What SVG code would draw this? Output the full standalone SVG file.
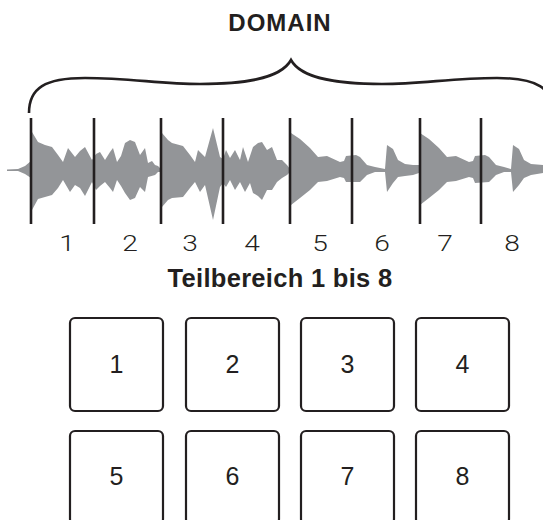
<svg xmlns="http://www.w3.org/2000/svg" width="543" height="520" viewBox="0 0 543 520">
<style>
.title{font-family:"Liberation Sans",Arial,sans-serif;font-weight:bold;fill:#231f20;text-anchor:middle}
.seg{font-family:Roboto,"DejaVu Sans",sans-serif;font-weight:300;font-size:22.5px;fill:#231f20;text-anchor:middle}
.pad rect{fill:#ffffff;stroke:#231f20;stroke-width:2.2}
.pad text{font-family:"Liberation Sans",Arial,sans-serif;font-size:25px;fill:#231f20;text-anchor:middle}
.div{stroke:#231f20;stroke-width:2.6}
</style>
<rect width="543" height="520" fill="#ffffff"/>
<text class="title" x="280" y="31" font-size="24" letter-spacing="1">DOMAIN</text>
<path d="M29,113 C29,88 45,78 85,78 C130,78 160,84 200,84 C240,84 280,80 291,60 C302,80 342,84 382,84 C422,84 452,78 497,78 C537,78 553,88 553,113" fill="none" stroke="#231f20" stroke-width="2.6"/>
<g id="waveform">
<path fill="#939598" d="M7,169.5 L18,169 L25,166 L31,161 L32,132 L38,142 L45,145 L52,147 L58,155 L63,162 L68,148 L75,157 L80,151 L85,147 L92,160 L96,154 L100,152 L105,160 L110,152 L113,148 L117,162 L121,156 L125,143 L130,140 L135,142 L140,155 L145,148 L148,163 L152,161 L155,165 L158,166 L161,169 L162,133 L168,140 L172,143 L183,146 L190,155 L195,162 L198,150 L205,157 L213,128 L220,157 L223,159 L226,150 L230,158 L235,150 L240,160 L243,147 L248,162 L253,147 L258,143 L262,142 L267,150 L272,147 L277,160 L282,160 L287,165 L290,169 L291,133 L300,139 L310,148 L318,157 L327,156 L340,162 L344,161 L346,156 L356,155 L360,157 L367,165 L375,167 L385,169 L387,145 L393,149 L398,160 L405,164 L413,165 L419,165 L420,133 L429,139 L439,148 L447,157 L456,156 L469,162 L473,161 L475,156 L485,155 L489,157 L496,165 L504,167 L511,169 L513,145 L519,149 L524,160 L531,164 L543,165 L543,173 L531,175 L524,178 L519,185 L513,192 L511,172 L504,172 L496,175 L489,182 L475,183 L473,178 L469,177 L456,181 L447,182 L439,190 L429,198 L420,205 L419,173 L413,175 L405,176 L398,177 L393,183 L387,192 L385,172 L375,172 L367,175 L360,182 L346,182 L344,178 L340,177 L327,181 L318,182 L310,190 L300,198 L291,205 L290,172 L287,175 L282,178 L277,182 L272,190 L267,190 L262,200 L258,196 L253,193 L250,183 L245,192 L240,182 L235,190 L230,180 L226,187 L223,183 L220,187 L213,220 L205,185 L200,192 L195,182 L190,188 L183,197 L172,198 L168,200 L162,207 L161,172 L158,172 L155,175 L148,177 L145,192 L140,187 L135,198 L130,200 L125,193 L121,186 L117,180 L113,192 L110,188 L105,182 L100,186 L96,190 L92,182 L85,196 L80,188 L75,185 L70,192 L63,180 L58,188 L52,195 L45,197 L38,199 L32,210 L31,178 L25,174 L18,171 L7,171 Z"/>
</g>
<g id="dividers" class="div">
<line x1="31" y1="118" x2="31" y2="224"/>
<line x1="94" y1="118" x2="94" y2="224"/>
<line x1="161" y1="118" x2="161" y2="224"/>
<line x1="223" y1="118" x2="223" y2="224"/>
<line x1="290" y1="118" x2="290" y2="224"/>
<line x1="352" y1="118" x2="352" y2="224"/>
<line x1="420" y1="118" x2="420" y2="224"/>
<line x1="481" y1="118" x2="481" y2="224"/>
</g>
<g id="segment-labels">
<text class="seg" transform="translate(67,251) scale(1.25,1)">1</text>
<text class="seg" transform="translate(130,251) scale(1.25,1)">2</text>
<text class="seg" transform="translate(190,251) scale(1.25,1)">3</text>
<text class="seg" transform="translate(252,251) scale(1.25,1)">4</text>
<text class="seg" transform="translate(320,251) scale(1.25,1)">5</text>
<text class="seg" transform="translate(382,251) scale(1.25,1)">6</text>
<text class="seg" transform="translate(445,251) scale(1.25,1)">7</text>
<text class="seg" transform="translate(512,251) scale(1.25,1)">8</text>
</g>
<text class="title" x="280" y="287" font-size="25.5" letter-spacing="0.3">Teilbereich 1 bis 8</text>
<g id="pad1" class="pad"><rect x="70" y="318" width="93" height="93" rx="5"/><text x="116.5" y="373">1</text></g>
<g id="pad2" class="pad"><rect x="186" y="318" width="93" height="93" rx="5"/><text x="232.5" y="373">2</text></g>
<g id="pad3" class="pad"><rect x="301" y="318" width="93" height="93" rx="5"/><text x="347.5" y="373">3</text></g>
<g id="pad4" class="pad"><rect x="416" y="318" width="93" height="93" rx="5"/><text x="462.5" y="373">4</text></g>
<g id="pad5" class="pad"><rect x="70" y="431" width="93" height="93" rx="5"/><text x="116.5" y="485">5</text></g>
<g id="pad6" class="pad"><rect x="186" y="431" width="93" height="93" rx="5"/><text x="232.5" y="485">6</text></g>
<g id="pad7" class="pad"><rect x="301" y="431" width="93" height="93" rx="5"/><text x="347.5" y="485">7</text></g>
<g id="pad8" class="pad"><rect x="416" y="431" width="93" height="93" rx="5"/><text x="462.5" y="485">8</text></g>
</svg>
